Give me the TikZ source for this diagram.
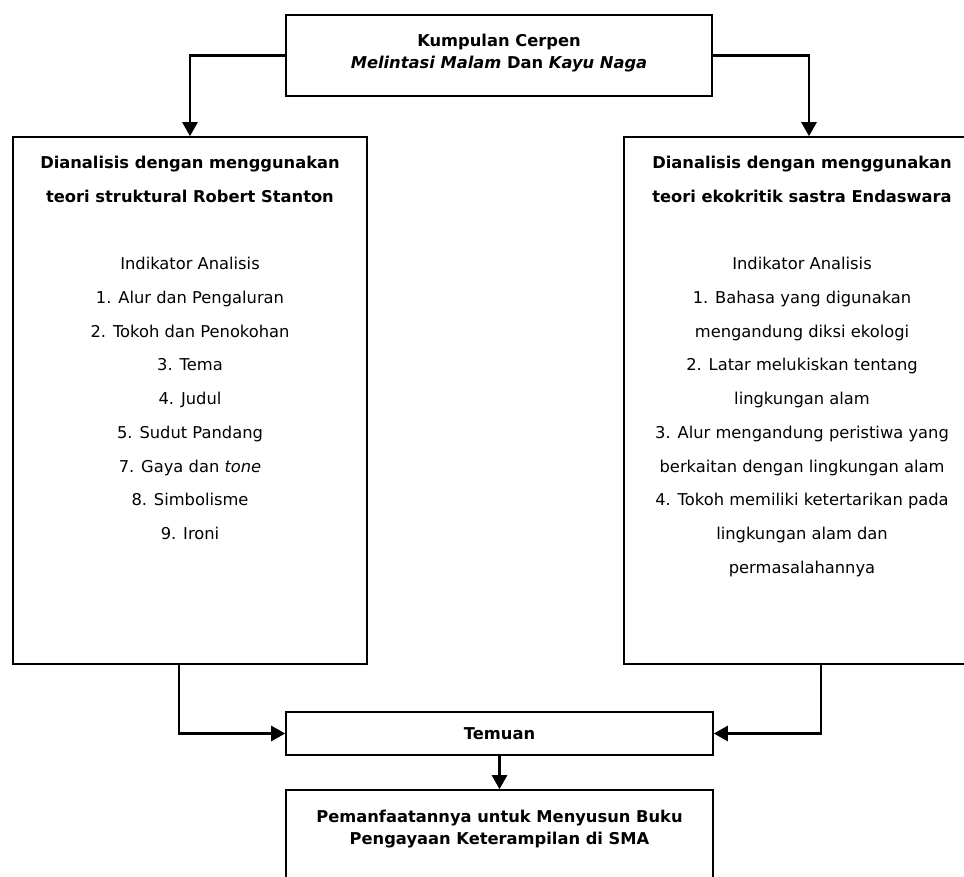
\documentclass[tikz,border=0pt]{standalone}
\usepackage{fontspec}
\setmainfont{DejaVu Sans}
\usetikzlibrary{arrows.meta,positioning}
\definecolor{LineClr}{rgb}{0,0,0}

\begin{document}
\begin{tikzpicture}[x=1pt,y=-1pt,
  box/.style={draw=LineClr,line width=1.6pt,inner sep=0pt},
  teks/.style={inner sep=0pt,align=center,font=\fontsize{16.3}{22}\selectfont},
  panjang/.style={teks,font=\fontsize{16.3}{33.7}\selectfont},
  panah/.style={draw=LineClr,line width=2.6pt,-{Triangle[length=14pt,width=15pt]}}]
\useasboundingbox (0,0) rectangle (964,877);
\clip (0,0) rectangle (964,877);

\node[box,minimum width=426pt,minimum height=81pt] (sumber) at (499,55.5) {};
\node[box,minimum width=354pt,minimum height=527pt] (struktural) at (190,400.5) {};
\node[box,minimum width=356pt,minimum height=527pt] (ekokritik) at (802,400.5) {};
\node[box,teks,minimum width=427pt,minimum height=43pt] (temuan) at (499.5,733.5) {\textbf{Temuan}};
\node[box,minimum width=427pt,minimum height=120pt] (manfaat) at (499.5,850) {};

\node[teks,below=20pt of sumber.north] (tSumber) {\textbf{Kumpulan Cerpen}\\
  \textbf{\textit{Melintasi Malam} Dan \textit{Kayu Naga}}};
\node[panjang,below=20pt of struktural.north] (tStruktural) {\textbf{Dianalisis dengan menggunakan}\\
  \textbf{teori struktural Robert Stanton}\\[33.7pt]
  Indikator Analisis\\1. Alur dan Pengaluran\\2. Tokoh dan Penokohan\\3. Tema\\4. Judul\\
  5. Sudut Pandang\\7. Gaya dan \textit{tone}\\8. Simbolisme\\9. Ironi};
\node[panjang,below=20pt of ekokritik.north] (tEkokritik) {\textbf{Dianalisis dengan menggunakan}\\
  \textbf{teori ekokritik sastra Endaswara}\\[33.7pt]
  Indikator Analisis\\1. Bahasa yang digunakan\\mengandung diksi ekologi\\
  2. Latar melukiskan tentang\\lingkungan alam\\3. Alur mengandung peristiwa yang\\
  berkaitan dengan lingkungan alam\\4. Tokoh memiliki ketertarikan pada\\
  lingkungan alam dan\\permasalahannya};
\node[teks,below=21pt of manfaat.north] (tManfaat) {\textbf{Pemanfaatannya untuk Menyusun Buku}\\
  \textbf{Pengayaan Keterampilan di SMA}};

\draw[panah] (sumber.west) -| (struktural.north);
\draw[panah] (sumber.east) -| ([xshift=7pt]ekokritik.north);
\draw[panah] ([xshift=-11pt]struktural.south) |- (temuan.west);
\draw[panah] ([xshift=19pt]ekokritik.south) |- (temuan.east);
\draw[panah] (temuan) -- (manfaat);

\end{tikzpicture}
\end{document}
